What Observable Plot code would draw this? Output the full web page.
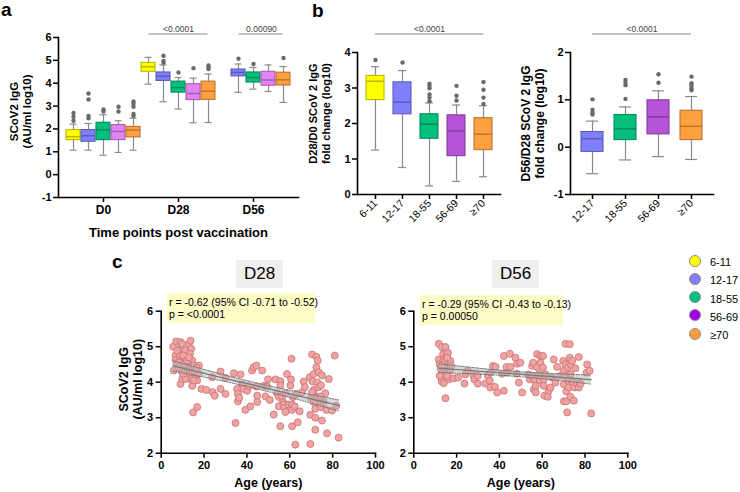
<!DOCTYPE html>
<html>
<head>
<meta charset="utf-8">
<script src="https://cdn.jsdelivr.net/npm/d3@7"></script>
<script src="https://cdn.jsdelivr.net/npm/@observablehq/plot@0.6"></script>
<style>
  body { margin: 0; background: #fff; }
  #fig { position: relative; width: 740px; height: 492px; overflow: hidden; background: #fff;
         font-family: "Liberation Sans", Arial, Helvetica, sans-serif; color: #000; }
  .panel { position: absolute; }
  .letter { position: absolute; font-weight: bold; font-size: 19px; line-height: 19px; }
  .title { position: absolute; background: #efefef; font-size: 17px; text-align: center; line-height: 28px; height: 28px; }
  .note { position: absolute; background: #fdfbc6; font-size: 10.5px; line-height: 11.7px; padding: 4px 0 0 2px; box-sizing: border-box; white-space: nowrap; }
  .lg { position: absolute; font-size: 11px; line-height: 14px; }
  .lg i { position: absolute; left: -21px; top: -0.5px; width: 12px; height: 12px; border-radius: 50%; border: 1px solid #8a8a8a; box-sizing: border-box; }
</style>
</head>
<body>
<div id="fig">
  <div id="pa" class="panel" style="left:0;top:0;width:305px"></div>
  <div id="pb1" class="panel" style="left:300px;top:0;width:210px"></div>
  <div id="pb2" class="panel" style="left:505px;top:0;width:235px"></div>
  <div id="pc1" class="panel" style="left:100px;top:262px;width:290px"></div>
  <div id="pc2" class="panel" style="left:380px;top:262px;width:257px"></div>
  <div class="letter" style="left:1px;top:0px">a</div>
  <div class="letter" style="left:312px;top:1px">b</div>
  <div class="letter" style="left:112px;top:252px">c</div>
  <div class="title" style="left:236px;top:260px;width:47px">D28</div>
  <div class="title" style="left:492px;top:260px;width:47px">D56</div>
  <div class="note" style="left:167px;top:293px;width:148px;height:30px">r = -0.62 (95% CI -0.71 to -0.52)<br>p = &lt;0.0001</div>
  <div class="note" style="left:420px;top:295px;width:143px;height:30px">r = -0.29 (95% CI -0.43 to -0.13)<br>p = 0.00050</div>
  <div id="legend"></div>
</div>
<script>
const FONT = '"Liberation Sans", Arial, Helvetica, sans-serif';

// Age groups and sampling days
const ageGroups = ["6-11", "12-17", "18-55", "56-69", "≥70"];
const timePoints = ["D0", "D28", "D56"];
const fillTiter = ["#ffff00", "#7f7ffb", "#05c07d", "#e383f3", "#ffa040"];
const fillFold = ["#ffff00", "#7f7ffb", "#05c07d", "#b653d8", "#ffa040"];
const fillLegend = ["#ffff00", "#7f7ffb", "#00c07f", "#a100e3", "#ff9b3d"];

// SCoV2 IgG (log10 AU/ml): [whisker low, Q1, median, Q3, whisker high] per age group
const d0Box = [
  [1.07, 1.51, 1.66, 1.95, 2.21],
  [1.07, 1.44, 1.70, 1.95, 2.24],
  [0.85, 1.51, 1.96, 2.27, 2.62],
  [0.97, 1.51, 1.89, 2.17, 2.36],
  [1.07, 1.63, 1.95, 2.09, 2.47]
];
const d0Out = [[2.36, 2.53, 2.70], [2.47, 2.57, 3.29, 3.55], [2.76, 2.85], [2.76, 2.97], [2.57, 2.65, 2.97, 3.10, 3.20]];
const d28Box = [
  [3.96, 4.50, 4.72, 4.89, 5.13],
  [3.19, 4.10, 4.31, 4.47, 4.80],
  [2.87, 3.59, 3.81, 4.07, 4.25],
  [2.27, 3.26, 3.55, 3.96, 4.22],
  [2.28, 3.27, 3.65, 4.07, 4.40]
];
const d28Out = [[], [4.90, 4.97, 5.20], [4.47], [4.66], [4.62, 4.70, 4.78]];
const d56Box = [
  null,
  [3.60, 4.30, 4.47, 4.60, 4.84],
  [3.74, 4.03, 4.25, 4.47, 4.69],
  [3.64, 3.89, 4.14, 4.50, 4.80],
  [3.16, 3.90, 4.15, 4.46, 4.73]
];
const d56Out = [[], [5.07], [4.84], [], [5.10]];
const titerP = [
  {from: "D28 6-11", to: "D28 ≥70", label: "<0.0001"},
  {from: "D56 12-17", to: "D56 ≥70", label: "0.00090"}
];

// Fold change D28/D0 (log10)
const foldD28Box = [
  [1.25, 2.66, 3.19, 3.34, 3.60],
  [0.76, 2.26, 2.60, 3.16, 3.49],
  [0.24, 1.57, 1.98, 2.26, 2.58],
  [0.37, 1.08, 1.79, 2.23, 2.52],
  [0.50, 1.25, 1.70, 2.15, 2.50]
];
const foldD28Out = [[3.79], [3.72], [2.63, 2.73, 2.82, 2.99, 3.06, 3.12], [2.65, 2.78, 3.06], [2.55, 2.73, 2.95, 3.17]];
// Fold change D56/D28 (log10), no 6-11 group
const foldD56Groups = ["12-17", "18-55", "56-69", "≥70"];
const foldD56Box = [
  [-0.56, -0.10, 0.18, 0.32, 0.55],
  [-0.27, 0.15, 0.39, 0.68, 0.85],
  [-0.20, 0.27, 0.64, 0.99, 1.19],
  [-0.26, 0.15, 0.44, 0.77, 1.07]
];
const foldD56Out = [[0.69, 0.73, 0.79, 1.01], [1.02, 1.31, 1.36, 1.42], [1.36, 1.54], [1.20, 1.24, 1.30, 1.35, 1.49]];

// Individual participants: [age (years), SCoV2 IgG log10]
const d28Points = [
  [5.9,4.33],[5.6,5.0],[7,5.15],[6.7,4.75],[6.7,4.63],[7.1,4.5],[9,5.13],[9,4.94],[8.7,4.75],[9.8,4.61],
  [9,4.42],[9.8,4.28],[9,3.95],[9.8,4.09],[11.3,4.89],[11.3,4.61],[12.1,4.42],[12.1,4.28],[12.9,5.08],[13.7,5.17],
  [14,4.94],[13.4,4.8],[14.5,4.61],[13.7,4.44],[14.5,4.33],[12.9,4.19],[13.7,4.09],[14.5,3.9],[15.2,4.47],[16,4.28],
  [16,4.14],[16.8,4.05],[17.6,4.24],[17.6,4.47],[14.9,3.15],[16.8,3.3],[10.6,4.52],[8.2,4.56],[10.3,4.75],[10.9,4.33],
  [12.1,4.61],[9.8,5.08],[7.5,4.89],[11.4,4.09],[15.2,4.05],[16.5,4.4],[10.3,4.24],[12.9,4.7],[8.2,4.42],
  [18.8,3.81],[21.1,3.78],[23.8,4.14],[24,3.72],[25,3.62],[27.7,4.3],[27.7,3.81],[30,4.12],[30,3.67],[33.9,4.25],
  [34.7,2.85],[35.4,3.81],[35.8,3.67],[35.8,3.46],[36.4,3.56],[37,4.22],[37.8,3.93],[38.5,3.81],[39.3,3.22],[40.1,3.76],
  [40.9,3.89],[41.6,3.32],[42.4,4.33],[43.2,4.42],[44.4,3.88],[44.4,4.47],[44.8,3.62],[44.8,3.44],[47.1,4.33],[47.9,3.9],
  [48.6,3.6],[49.4,3.88],[49.9,4.08],[50.7,3.5],[52.5,3.09],[53.3,4.08],[54.1,3.69],[54.9,3.58],[55.6,4.03],[55.6,3.91],
  [54.9,3.32],[56.4,3.6],[55.6,2.76],[56.9,3.44],[57.2,3.37],[57.5,3.28],[58,3.69],[58,3.16],[58.7,4.23],[59.5,3.37],
  [60.3,3.91],[60.6,4.08],[60.8,4.66],[61.1,3.37],[61.1,3.22],[61.1,2.76],[61.5,3.58],[62.3,3.32],[62.6,2.24],[63.1,3.67],
  [63.7,2.87],[64.6,3.18],[65.7,3.72],[66.5,4.02],[67,3.86],[69.3,4.14],[69.6,3.08],[70,3.56],[69.6,2.26],[70.4,4.78],
  [70.7,4.02],[71.2,4.23],[71.2,3.78],[71.5,3.6],[71.9,3.25],[72.4,4.72],[72.4,4.42],[72.8,3.99],[72.8,3.58],[73,4.61],
  [73.5,4.28],[73.5,3.86],[74,3.44],[71.9,3.0],[71.9,2.66],[74.6,3.91],[74.6,3.3],[75,4.19],[75,2.92],[75.8,3.44],
  [76.6,3.69],[77.1,3.22],[77.4,2.56],[78.2,4.09],[79.7,3.2],[81,4.75],[81.7,3.34],[82.8,2.44],[71.2,3.44],[70.4,3.72],
  [74.3,3.6]
];
const d56Points = [
  [11.7,5.08],[13.2,4.99],[14.8,4.99],[11.7,4.64],[12.1,4.5],[12.5,4.39],[13.7,4.79],[14,4.62],[13.2,4.27],[12.8,4.13],
  [13,4.02],[14,3.97],[14.8,4.6],[15.3,4.41],[14.8,4.22],[15.3,4.74],[16,4.83],[16.4,4.55],[16.4,4.36],[17.1,4.6],
  [17.4,4.46],[16.8,4.32],[16.4,4.08],[14.8,3.55],[12.1,4.18],[14,4.41],[15.6,4.18],[15.6,4.69],[13.2,4.46],
  [18.7,4.11],[20.7,4.13],[23.7,3.96],[24.1,4.22],[25.2,4.32],[28,4.18],[28.3,4.08],[29.9,3.96],[29.9,4.18],[33.4,3.96],
  [34.6,4.18],[35.5,4.04],[35.8,3.85],[35.8,4.27],[37,4.46],[37.9,3.87],[38.2,4.43],[39,3.71],[41.3,4.24],[42.1,4.74],
  [42.1,3.76],[43.3,4.43],[43.6,4.27],[44.9,4.8],[45.2,4.43],[47.5,4.69],[48,4.24],[48.3,4.52],[49.1,3.99],[49.8,4.55],
  [50.6,3.71],[53.7,4.22],[54.2,4.08],[55.3,4.46],[55.3,4.18],[55.8,4.55],[56.1,3.8],[56.4,4.06],[57,3.9],[57,3.71],
  [57.6,4.79],[57.6,4.43],[58.4,4.22],[58.9,4.06],[59.2,4.74],[59.2,4.55],[60.4,4.74],[60.4,4.41],[60.7,4.08],[60.7,3.9],
  [61,3.62],[61.5,4.22],[62.6,3.59],[63.1,3.76],[63.9,3.85],[64.6,4.13],[65.4,4.64],[66.2,3.99],[67,4.43],[68.5,4.18],
  [69.8,4.6],[70.1,4.32],[70.1,3.94],[70.1,3.46],[70.9,5.08],[70.9,4.5],[71,4.18],[71.3,3.74],[71.3,3.46],[71.7,3.15],
  [72,4.41],[72.1,4.04],[72.4,3.85],[72.9,5.07],[72.9,4.69],[73.2,4.22],[73.2,3.59],[73.5,4.49],[74,4.6],[74.5,3.99],
  [74.8,3.48],[75.1,3.85],[75.5,4.39],[76.3,3.96],[77.1,4.71],[77.1,3.85],[77.9,3.96],[80.7,4.27],[81,4.5],[82.2,4.32],
  [82.9,3.12]
];

const baseStyle = {fontFamily: FONT, fontSize: "11px", color: "#000", background: "transparent", overflow: "visible"};
const edgeOf = (c) => d3.color(c).darker(0.9).formatHex();
const num = (d) => `${d}`;

function summaryRows(boxes, keys, fills) {
  const rows = [];
  boxes.forEach((b, i) => {
    if (!b) return;
    rows.push({key: keys[i], fill: fills[i], edge: edgeOf(fills[i]), min: b[0], q1: b[1], median: b[2], q3: b[3], max: b[4]});
  });
  return rows;
}
function outlierRows(outs, keys) {
  return outs.flatMap((vs, i) => vs.map((value) => ({key: keys[i], value})));
}
function boxMarks(rows, outs, cap, r) {
  const wh = {stroke: "#8a8a8a", strokeWidth: 1.2};
  return [
    Plot.ruleX(rows, {x: "key", y1: "min", y2: "max", ...wh}),
    Plot.tickY(rows, {x: "key", y: "min", inset: cap, ...wh}),
    Plot.tickY(rows, {x: "key", y: "max", inset: cap, ...wh}),
    Plot.barY(rows, {x: "key", y1: "q1", y2: "q3", fill: "fill", stroke: "edge", strokeWidth: 1.1}),
    Plot.tickY(rows, {x: "key", y: "median", stroke: "edge", strokeWidth: 1.5}),
    Plot.dot(outs, {x: "key", y: "value", r, fill: "#6a6a6a"})
  ];
}
// band step of a Plot band scale, used to centre bracket labels
const bandStep = (w, n, pi, po) => w / (n - pi + 2 * po);

function bracketMarks(specs, domain, yTop, step, bandwidth, dyLine) {
  const rows = specs.map((s) => {
    const a = domain.indexOf(s.from), b = domain.indexOf(s.to);
    const m = (a + b) / 2;
    return {...s, mid: domain[Math.floor(m)], shift: (m - Math.floor(m)) * step, y: yTop};
  });
  return [
    Plot.ruleY(rows, {x1: "from", x2: "to", y: "y", dy: dyLine, insetLeft: bandwidth / 2, insetRight: bandwidth / 2, stroke: "#888", strokeWidth: 1}),
    ...rows.map((r) => Plot.text([r], {x: "mid", y: "y", text: "label", dx: r.shift, dy: dyLine - 5, fontSize: 8.5, fill: "#444", fontWeight: "normal"}))
  ];
}
// rotated two-line axis title, centred on the frame's left edge
const yTitle = (text, {dx, dy, size}) =>
  Plot.text([text], {frameAnchor: "left", textAnchor: "middle", rotate: -90, dx, dy, lineAnchor: "middle", lineHeight: 1.12, fontSize: size, fontWeight: "bold"});

// ---- a: antibody titres by day and age group
{
  const key = (t, g) => `${t} ${g}`;
  const domain = timePoints.flatMap((t) => ageGroups.map((g) => key(t, g)));
  const boxesByDay = [d0Box, d28Box, d56Box], outByDay = [d0Out, d28Out, d56Out];
  const rows = timePoints.flatMap((t, i) => summaryRows(boxesByDay[i], ageGroups.map((g) => key(t, g)), fillTiter));
  const outs = timePoints.flatMap((t, i) => outlierRows(outByDay[i], ageGroups.map((g) => key(t, g))));
  const W = 305, ml = 58, mr = 7, pad = 0.06;
  const step = bandStep(W - ml - mr, domain.length, pad, pad);
  const chart = Plot.plot({
    width: W, height: 245, marginLeft: ml, marginRight: mr, marginTop: 37, marginBottom: 48,
    x: {type: "band", domain, padding: pad, axis: null},
    y: {domain: [-1, 6], axis: null},
    color: {type: "identity"},
    style: baseStyle,
    marks: [
      ...boxMarks(rows, outs, 3.5, 2.2),
      Plot.frame({anchor: "left", strokeWidth: 1.6}),
      Plot.frame({anchor: "bottom", strokeWidth: 1.6}),
      Plot.axisY({ticks: d3.range(-1, 7), tickFormat: num, tickSize: 5, tickPadding: 2, fontSize: 11, fontWeight: "bold", strokeWidth: 1.5, label: null}),
      Plot.axisX({ticks: timePoints.map((t) => key(t, "18-55")), tickFormat: (k) => k.split(" ")[0], tickSize: 5, tickPadding: 3, fontSize: 12, fontWeight: "bold", strokeWidth: 1.5, label: null}),
      yTitle("SCoV2 IgG\n(AU/ml log10)", {dx: -38, dy: -6, size: 11.5}),
      Plot.text(["Time points post vaccination"], {frameAnchor: "bottom", dy: 35, lineAnchor: "middle", fontSize: 13, fontWeight: "bold"}),
      ...bracketMarks(titerP, domain, 6, step, step * (1 - pad), -3.5)
    ]
  });
  document.getElementById("pa").append(chart);
}

// ---- b: fold changes by age group
function foldChart({groups, boxes, outs, fills, W, ml, mr, yDomain, yTicks, pi, po, label, labelSize, labelDx, labelDy, pSpec}) {
  const rows = summaryRows(boxes, groups, fills);
  const outRows = outlierRows(outs, groups);
  const step = bandStep(W - ml - mr, groups.length, pi, po);
  return Plot.plot({
    width: W, height: 245, marginLeft: ml, marginRight: mr, marginTop: 52, marginBottom: 51,
    x: {type: "band", domain: groups, paddingInner: pi, paddingOuter: po, axis: null},
    y: {domain: yDomain, axis: null},
    color: {type: "identity"},
    style: baseStyle,
    marks: [
      ...boxMarks(rows, outRows, 5, 2.2),
      Plot.frame({anchor: "left", strokeWidth: 1.6}),
      Plot.frame({anchor: "bottom", strokeWidth: 1.6}),
      Plot.axisY({ticks: yTicks, tickFormat: num, tickSize: 5, tickPadding: 2, fontSize: 11, fontWeight: "bold", strokeWidth: 1.5, label: null}),
      Plot.axisX({tickRotate: -45, tickSize: 5, tickPadding: 2, fontSize: 10.5, strokeWidth: 1.5, label: null}),
      yTitle(label, {dx: labelDx, dy: labelDy, size: labelSize}),
      ...bracketMarks([pSpec], groups, yDomain[1], step, step * (1 - pi), -18.5)
    ]
  });
}
document.getElementById("pb1").append(foldChart({
  groups: ageGroups, boxes: foldD28Box, outs: foldD28Out, fills: fillFold,
  W: 210, ml: 57, mr: 10, yDomain: [0, 4], yTicks: [0, 1, 2, 3, 4], pi: 0.35, po: 0.32,
  label: "D28/D0 SCoV 2 IgG\nfold change (log10)", labelSize: 11, labelDx: -38, labelDy: -10,
  pSpec: {from: "6-11", to: "≥70", label: "<0.0001"}
}));
document.getElementById("pb2").append(foldChart({
  groups: foldD56Groups, boxes: foldD56Box, outs: foldD56Out, fills: fillFold.slice(1),
  W: 235, ml: 65, mr: 27, yDomain: [-1, 2], yTicks: [-1, 0, 1, 2], pi: 0.333, po: 0.333,
  label: "D56/D28 SCoV 2 IgG\nfold change (log10)", labelSize: 12, labelDx: -38, labelDy: 0,
  pSpec: {from: "12-17", to: "≥70", label: "<0.0001"}
}));

// ---- c: titre against age with least-squares fit and 95% confidence band
function fitBand(points) {
  const xs = points.map((p) => p[0]), ys = points.map((p) => p[1]);
  const n = xs.length, mx = d3.mean(xs), my = d3.mean(ys);
  const sxx = d3.sum(xs, (x) => (x - mx) ** 2);
  const sxy = d3.sum(xs, (x, i) => (x - mx) * (ys[i] - my));
  const b = sxy / sxx, a = my - b * mx;
  const s = Math.sqrt(d3.sum(xs, (x, i) => (ys[i] - a - b * x) ** 2) / (n - 2));
  const t = 1.97;
  const [x0, x1] = d3.extent(xs);
  return d3.range(0, 41).map((k) => {
    const x = x0 + (x1 - x0) * k / 40;
    const yhat = a + b * x, se = s * Math.sqrt(1 / n + (x - mx) ** 2 / sxx);
    return {x, y: yhat, lo: yhat - t * se, hi: yhat + t * se};
  });
}
function scatterChart(points, W, ml, mr, withLabel) {
  const band = fitBand(points);
  const dotted = {stroke: "#666", strokeWidth: 0.9, strokeDasharray: "1.2,1.4"};
  return Plot.plot({
    width: W, height: 230, marginLeft: ml, marginRight: mr, marginTop: 48.7, marginBottom: 39.3,
    x: {domain: [0, 100], axis: null},
    y: {domain: [2, 6], axis: null},
    style: baseStyle,
    marks: [
      Plot.dot(points, {x: (d) => d[0], y: (d) => d[1], r: 3.5, fill: "#f3a2a2", stroke: "#c17474", strokeWidth: 0.8}),
      Plot.areaY(band, {x: "x", y1: "lo", y2: "hi", fill: "#b4b4b4", fillOpacity: 0.5}),
      Plot.line(band, {x: "x", y: "lo", ...dotted}),
      Plot.line(band, {x: "x", y: "hi", ...dotted}),
      Plot.line(band, {x: "x", y: "y", stroke: "#7a7a7a", strokeWidth: 1.3}),
      Plot.frame({anchor: "left", strokeWidth: 1.6}),
      Plot.frame({anchor: "bottom", strokeWidth: 1.6}),
      Plot.axisY({ticks: [2, 3, 4, 5, 6], tickFormat: num, tickSize: 5, tickPadding: 3, fontSize: 11, fontWeight: "bold", strokeWidth: 1.5, label: null}),
      Plot.axisX({ticks: [0, 20, 40, 60, 80, 100], tickFormat: num, tickSize: 5, tickPadding: 3, fontSize: 11, fontWeight: "bold", strokeWidth: 1.5, label: null}),
      Plot.text(["Age (years)"], {frameAnchor: "bottom", dy: 30, lineAnchor: "middle", fontSize: 12.5, fontWeight: "bold"}),
      withLabel ? yTitle("SCoV2 IgG\n(AU/ml log10)", {dx: -31, dy: -3, size: 12.5}) : null
    ]
  });
}
document.getElementById("pc1").append(scatterChart(d28Points, 290, 60.7, 15, true));
document.getElementById("pc2").append(scatterChart(d56Points, 257, 33.3, 9.7, false));

// ---- age-group legend
{
  const lg = document.getElementById("legend");
  ageGroups.forEach((g, i) => {
    const el = document.createElement("div");
    el.className = "lg";
    el.style.left = "710px";
    el.style.top = `${255 + i * 18.3}px`;
    el.innerHTML = `<i style="background:${fillLegend[i]}"></i>${g}`;
    lg.append(el);
  });
}
</script>
</body>
</html>
